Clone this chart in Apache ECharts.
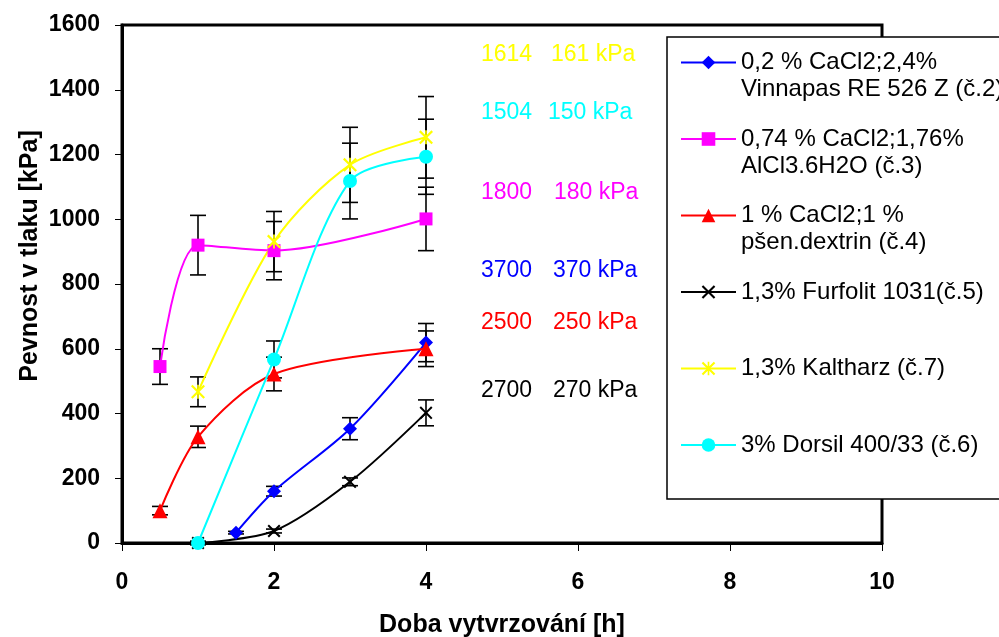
<!DOCTYPE html>
<html>
<head>
<meta charset="utf-8">
<script src="https://cdn.jsdelivr.net/npm/echarts@6/dist/echarts.min.js"></script>
<style>
  html, body { margin: 0; padding: 0; background: #fff; }
  #chart { width: 999px; height: 637px; }
</style>
</head>
<body>
<div id="chart"></div>
<script>
/************************************ 数据 *******************************/
var names = [
  '0,2 % CaCl2;2,4%\nVinnapas RE 526 Z (č.2)',
  '0,74 % CaCl2;1,76%\nAlCl3.6H2O (č.3)',
  '1 % CaCl2;1 %\npšen.dextrin (č.4)',
  '1,3% Furfolit 1031(č.5)',
  '1,3% Kaltharz (č.7)',
  '3% Dorsil 400/33 (č.6)'
];
// doba [h], pevnost [kPa], chyba [kPa]
var xVinnapas = [1.5, 2, 3, 4];
var yVinnapas = [32, 160, 353, 619];
var eVinnapas = [4, 15, 34, 59];

var xAlCl = [0.5, 1, 2, 4];
var yAlCl = [545, 920, 903, 1001];
var eAlCl = [55, 92, 90, 98];

var xDextrin = [0.5, 1, 2, 4];
var yDextrin = [100, 328, 522, 600];
var eDextrin = [13, 33, 52, 55];

var xFurfolit = [1, 2, 3, 4];
var yFurfolit = [0, 37, 189, 402];
var eFurfolit = [5, 6, 12, 40];

var xKaltharz = [1, 2, 3, 4];
var yKaltharz = [467, 931, 1168, 1253];
var eKaltharz = [46, 93, 116, 126];

var xDorsil = [1, 2, 3, 4];
var yDorsil = [0, 567, 1118, 1193];
var eDorsil = [5, 57, 117, 116];

var xTicks = [0, 2, 4, 6, 8, 10];
var yTicks = [0, 200, 400, 600, 800, 1000, 1200, 1400, 1600];

// popisky vpravo od grafu
var noteLeft = ['1614', '1504', '1800', '3700', '2500', '2700'];
var noteRight = ['161 kPa', '150 kPa', '180 kPa', '370 kPa', '250 kPa', '270 kPa'];

/************************************ 样式 *******************************/
var colors = ['#0000ff', '#ff00ff', '#ff0000', '#000000', '#ffff00', '#00ffff'];
var noteColors = ['#ffff00', '#00ffff', '#ff00ff', '#0000ff', '#ff0000', '#000000'];
var noteY = [55, 113, 193, 271, 323, 391];
var noteRightX = [551, 548, 554, 553, 553, 553];
var font = 'Liberation Sans, Arial, sans-serif';

var xMark = 'path://M0,1.1L1.1,0L5,3.9L8.9,0L10,1.1L6.1,5L10,8.9L8.9,10L5,6.1L1.1,10L0,8.9L3.9,5Z';
var starMark = xMark + 'M4.4,0L5.6,0L5.6,10L4.4,10Z';
var symbols = ['diamond', 'rect', 'triangle', xMark, starMark, 'circle'];
var symbolSizes = [14, 13, 15, 13, 14, 14];

var xs = [xVinnapas, xAlCl, xDextrin, xFurfolit, xKaltharz, xDorsil];
var ys = [yVinnapas, yAlCl, yDextrin, yFurfolit, yKaltharz, yDorsil];
var es = [eVinnapas, eAlCl, eDextrin, eFurfolit, eKaltharz, eDorsil];

//误差线
function errRender(params, api) {
  var x = api.value(0);
  var top = api.coord([x, api.value(2)]);
  var bot = api.coord([x, api.value(1)]);
  var w = 8, st = { stroke: '#000', lineWidth: 1.6 };
  return {
    type: 'group',
    children: [
      { type: 'line', shape: { x1: top[0], y1: top[1], x2: bot[0], y2: bot[1] }, style: st },
      { type: 'line', shape: { x1: top[0] - w, y1: top[1], x2: top[0] + w, y2: top[1] }, style: st },
      { type: 'line', shape: { x1: bot[0] - w, y1: bot[1], x2: bot[0] + w, y2: bot[1] }, style: st }
    ]
  };
}

var series = [];
for (var i = 0; i < names.length; i++) {
  var pts = [], errs = [];
  for (var j = 0; j < xs[i].length; j++) {
    pts.push([xs[i][j], ys[i][j]]);
    errs.push([xs[i][j], ys[i][j] - es[i][j], ys[i][j] + es[i][j]]);
  }
  series.push({
    type: 'custom',
    name: 'err' + i,
    renderItem: errRender,
    encode: { x: 0, y: [1, 2] },
    data: errs,
    z: 2,
    silent: true
  });
  series.push({
    type: 'line',
    name: names[i],
    data: pts,
    smooth: 0.3,
    symbol: symbols[i],
    symbolSize: symbolSizes[i],
    showAllSymbol: true,
    lineStyle: { color: colors[i], width: 2 },
    itemStyle: { color: colors[i] },
    z: 3
  });
}

// legenda rámeček (vpravo otevřený), popisky, název osy y
var graphics = [{
  type: 'rect',
  z: 5,
  shape: { x: 667, y: 37, width: 400, height: 462 },
  style: { fill: '#fff' }
}, {
  type: 'polyline',
  z: 5,
  shape: { points: [[1067, 37], [667, 37], [667, 499], [1067, 499]] },
  style: { fill: null, stroke: '#000', lineWidth: 1.5 }
}, {
  type: 'text',
  z: 6,
  x: 30, y: 256,
  rotation: Math.PI / 2,
  style: {
    text: 'Pevnost v tlaku [kPa]', fill: '#000', fontSize: 25, fontWeight: 'bold', fontFamily: font,
    align: 'center', verticalAlign: 'middle'
  }
}];
for (var k = 0; k < noteLeft.length; k++) {
  graphics.push({
    type: 'text', z: 6,
    style: { text: noteLeft[k], x: 481, y: noteY[k], fill: noteColors[k], fontSize: 23, fontFamily: font, verticalAlign: 'middle' }
  });
  graphics.push({
    type: 'text', z: 6,
    style: { text: noteRight[k], x: noteRightX[k], y: noteY[k], fill: noteColors[k], fontSize: 23, fontFamily: font, verticalAlign: 'middle' }
  });
}

var chart = echarts.init(document.getElementById('chart'));
var option = {
  backgroundColor: '#fff',
  animation: false,
  grid: {
    left: 122, right: 117, top: 25, bottom: 94,
    show: true, borderColor: '#000', borderWidth: 3,
    outerBoundsMode: 'none'
  },
  legend: {
    data: names,
    orient: 'vertical',
    left: 680, top: 22,
    padding: 0,
    itemGap: -4.5,
    itemWidth: 55, itemHeight: 17,
    selectedMode: false,
    z: 10,
    formatter: function (name) {
      // ikona zarovnaná s prvním řádkem
      var parts = name.split('\n');
      return '\u00a0\n' + parts[0] + '\n' + (parts[1] || '\u00a0');
    },
    textStyle: { color: '#000', fontSize: 24, lineHeight: 27, fontFamily: font }
  },
  xAxis: {
    type: 'value', min: xTicks[0], max: xTicks[xTicks.length - 1], interval: 2,
    name: 'Doba vytvrzování [h]', nameLocation: 'middle', nameGap: 70,
    nameTextStyle: { color: '#000', fontSize: 25, fontWeight: 'bold', fontFamily: font },
    axisLine: { show: true, lineStyle: { color: '#000', width: 3 } },
    axisTick: { show: true, length: 8, lineStyle: { color: '#000', width: 1 } },
    axisLabel: { color: '#000', fontSize: 23, fontWeight: 'bold', fontFamily: font, margin: 28 },
    splitLine: { show: false }
  },
  yAxis: {
    type: 'value', min: yTicks[0], max: yTicks[yTicks.length - 1], interval: 200,
    axisLine: { show: true, lineStyle: { color: '#000', width: 3 } },
    axisTick: { show: true, length: 7, lineStyle: { color: '#000', width: 1 } },
    axisLabel: {
      color: '#000', fontSize: 23, fontWeight: 'bold', fontFamily: font, margin: 22,
      formatter: function (v) { return String(v); }
    },
    splitLine: { show: false }
  },
  graphic: graphics,
  series: series
};
chart.setOption(option);
</script>
</body>
</html>
